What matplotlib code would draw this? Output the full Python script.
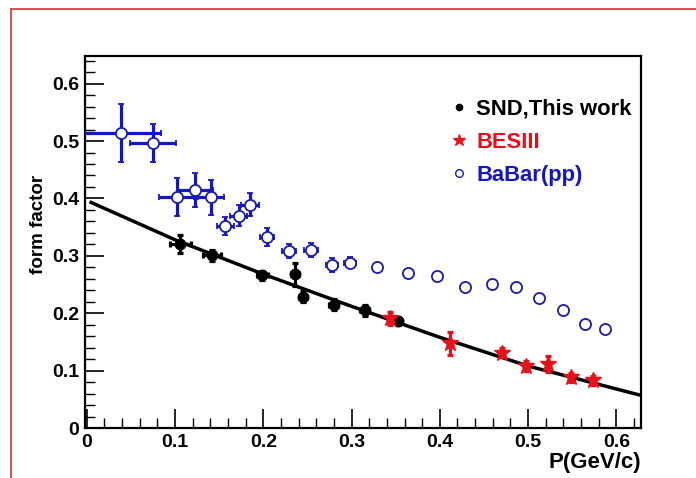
import matplotlib
matplotlib.use('Agg')
import matplotlib.pyplot as plt
from matplotlib.lines import Line2D
from matplotlib.ticker import MultipleLocator

plt.rcParams['font.family'] = ['Liberation Sans', 'DejaVu Sans']
plt.rcParams['font.weight'] = 'bold'

# SND measurement
snd_p = [0.106, 0.142, 0.199, 0.236, 0.245, 0.280, 0.315, 0.353]
snd_f = [0.321, 0.301, 0.266, 0.268, 0.229, 0.215, 0.205, 0.186]
snd_perr = [0.012, 0.010, 0.006, 0.005, 0.005, 0.005, 0.005, 0.004]
snd_ferr = [0.016, 0.010, 0.008, 0.020, 0.010, 0.010, 0.010, 0.007]

# BESIII
bes_p = [0.344, 0.411, 0.470, 0.498, 0.523, 0.549, 0.574]
bes_f = [0.191, 0.148, 0.131, 0.108, 0.111, 0.088, 0.083]
bes_ferr = [0.012, 0.020, 0.008, 0.008, 0.014, 0.008, 0.008]

# BaBar (pp)
bab_p = [0.039, 0.075, 0.102, 0.123, 0.141, 0.157, 0.172, 0.185, 0.204,
         0.229, 0.254, 0.278, 0.298, 0.329, 0.364, 0.397, 0.429, 0.459,
         0.486, 0.512, 0.539, 0.564, 0.587]
bab_f = [0.514, 0.496, 0.402, 0.415, 0.402, 0.352, 0.370, 0.389, 0.333,
         0.308, 0.310, 0.284, 0.288, 0.281, 0.270, 0.264, 0.246, 0.251,
         0.246, 0.227, 0.205, 0.181, 0.173]
bab_perr = [0.045, 0.026, 0.020, 0.020, 0.015, 0.010, 0.010, 0.010, 0.008,
            0.008, 0.008, 0.007, 0.007, 0.005, 0, 0, 0, 0, 0, 0, 0, 0, 0]
bab_ferr = [0.051, 0.033, 0.033, 0.030, 0.030, 0.015, 0.018, 0.020, 0.015,
            0.012, 0.012, 0.012, 0.010, 0.007, 0.006, 0, 0, 0, 0, 0, 0, 0, 0]

# fit curve
fit_p = [0.005, 0.1, 0.2, 0.3, 0.4, 0.5, 0.625]
fit_f = [0.393, 0.328, 0.268, 0.212, 0.158, 0.108, 0.058]

ticks = [0, 0.1, 0.2, 0.3, 0.4, 0.5, 0.6]
tick_labels = ['0', '0.1', '0.2', '0.3', '0.4', '0.5', '0.6']

blue = '#1515c8'
red = '#e8101a'

fig = plt.figure(figsize=(6.96, 4.78), dpi=100)
ax = fig.add_axes([0.1221, 0.1046, 0.799, 0.778])

ax.errorbar(bab_p, bab_f, xerr=bab_perr, yerr=bab_ferr, fmt='o', ms=8,
            mfc='white', mec='#1a1aa8', mew=1.3, ecolor=blue, elinewidth=2.3,
            capsize=2.5, capthick=2.3, zorder=3)
ax.plot(fit_p, fit_f, color='black', lw=2.5, zorder=4)
ax.errorbar(snd_p, snd_f, xerr=snd_perr, yerr=snd_ferr, fmt='o', ms=7.5,
            color='black', elinewidth=2.3, capsize=2.5, capthick=2.3, zorder=5)
ax.errorbar(bes_p, bes_f, yerr=bes_ferr, fmt='*', ms=12, color=red,
            elinewidth=2.3, capsize=2.5, capthick=2.3, zorder=6)

ax.set_xlim(-0.002, 0.628)
ax.set_ylim(0, 0.648)
ax.set_xticks(ticks)
ax.set_xticklabels(tick_labels)
ax.set_yticks(ticks)
ax.set_yticklabels(tick_labels)
ax.xaxis.set_minor_locator(MultipleLocator(0.02))
ax.yaxis.set_minor_locator(MultipleLocator(0.02))
ax.tick_params(which='major', direction='in', length=14, width=1.2,
               labelsize=14, pad=4)
ax.tick_params(which='minor', direction='in', length=7, width=1.0)
for s in ax.spines.values():
    s.set_linewidth(1.6)

ax.set_ylabel('form factor', fontsize=13.5, fontweight='bold')
ax.yaxis.set_label_coords(-0.068, 0.548)
ax.set_xlabel('P(GeV/c)', fontsize=16, fontweight='bold', loc='right',
              labelpad=1)

handles = [
    Line2D([], [], ls='none', marker='o', ms=4.5, color='black'),
    Line2D([], [], ls='none', marker='*', ms=9, color=red),
    Line2D([], [], ls='none', marker='o', ms=5.5, mfc='white', mec='#1a1aa8',
           mew=1.0),
]
leg = ax.legend(handles, ['SND,This work', 'BESIII', 'BaBar(pp)'],
                loc='upper left', bbox_to_anchor=(0.6244, 0.938), frameon=False,
                fontsize=15.8, handlelength=0.6, handletextpad=0.5,
                labelspacing=0.55)
for t, c in zip(leg.get_texts(), ['black', red, blue]):
    t.set_color(c)
    t.set_fontweight('bold')

# outer red frame
fig.add_artist(Line2D([11 / 696, 1.0], [1 - 9 / 478, 1 - 9 / 478],
                      transform=fig.transFigure, color='#d03535', lw=1.2))
fig.add_artist(Line2D([11 / 696, 11 / 696], [0, 1 - 9 / 478],
                      transform=fig.transFigure, color='#d03535', lw=1.2))

fig.savefig('out.png', dpi=100)
